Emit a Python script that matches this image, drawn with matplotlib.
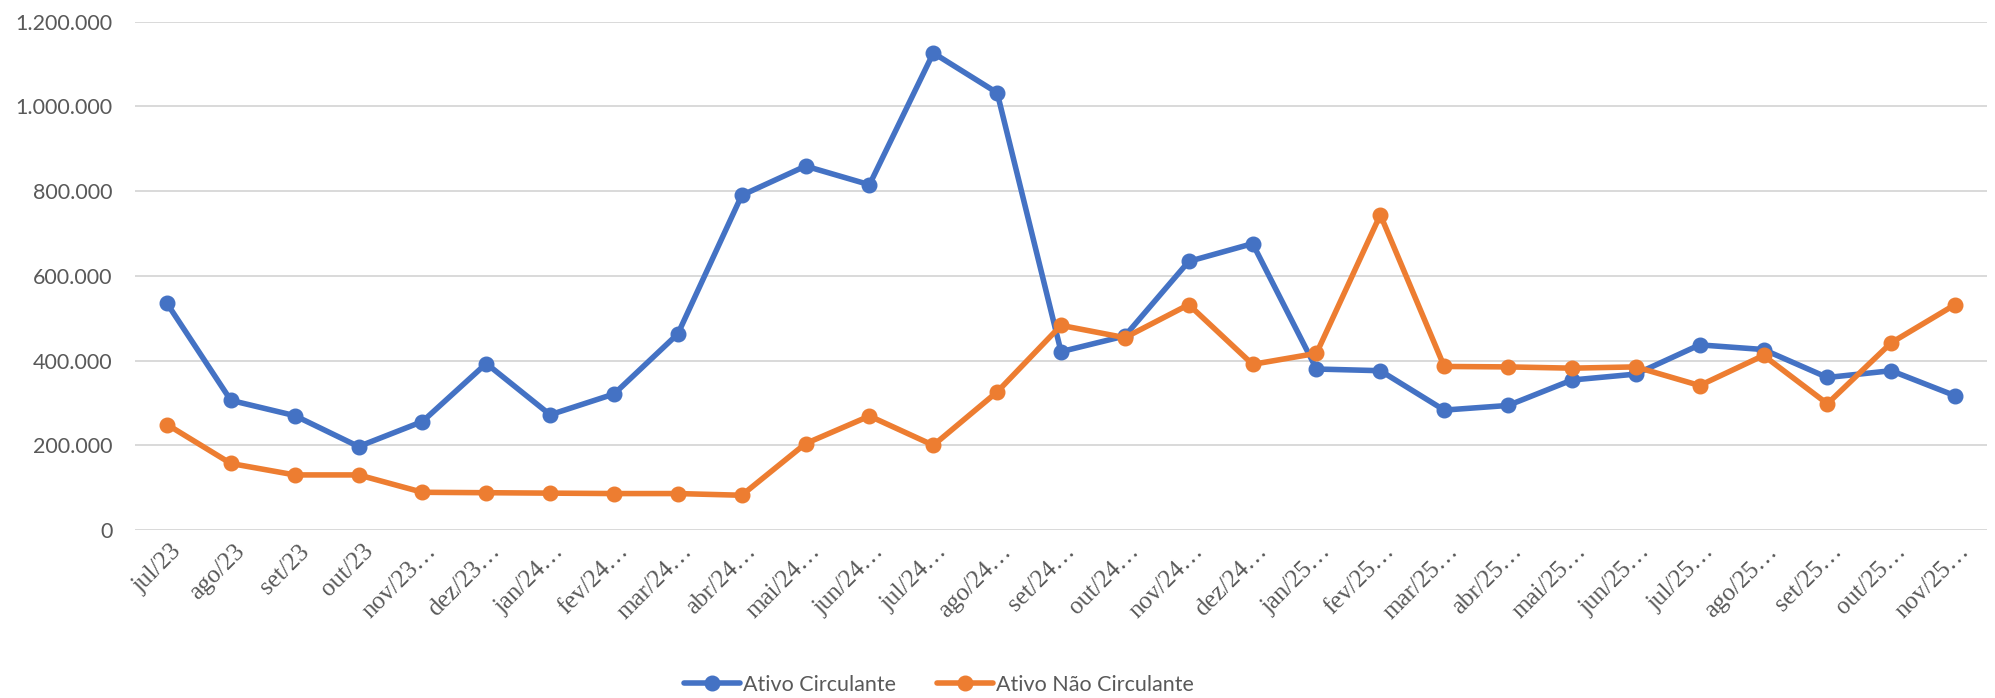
import matplotlib
matplotlib.use("Agg")
import matplotlib.pyplot as plt
from matplotlib.ticker import FuncFormatter, MultipleLocator
from matplotlib.transforms import ScaledTranslation

categories = ["jul/23", "ago/23", "set/23", "out/23", "nov/23…", "dez/23…", "jan/24…",
              "fev/24…", "mar/24…", "abr/24…", "mai/24…", "jun/24…", "jul/24…", "ago/24…",
              "set/24…", "out/24…", "nov/24…", "dez/24…", "jan/25…", "fev/25…", "mar/25…",
              "abr/25…", "mai/25…", "jun/25…", "jul/25…", "ago/25…", "set/25…", "out/25…",
              "nov/25…"]

ativo_circulante = [535000, 306000, 270000, 197000, 256000, 393000, 272000, 321000, 463000,
                    790000, 859000, 815000, 1126000, 1032000, 421000, 458000, 634000, 676000,
                    380000, 376000, 283000, 294000, 354000, 368000, 437000, 426000, 360000,
                    376000, 317000]

ativo_nao_circulante = [249000, 157000, 130000, 130000, 89000, 88000, 87000, 86000, 86000,
                        82000, 204000, 269000, 200000, 326000, 483000, 454000, 532000, 391000,
                        417000, 744000, 386000, 385000, 382000, 385000, 341000, 412000, 298000,
                        442000, 532000]

series_names = ["Ativo Circulante", "Ativo Não Circulante"]
colors = ["#4472C4", "#ED7D31"]

fig = plt.figure(figsize=(19.95, 6.98), dpi=100)
ax = fig.add_axes([0.0677, 0.2407, 0.9283, 0.7283])

x = list(range(len(categories)))
for vals, name, c in zip([ativo_circulante, ativo_nao_circulante], series_names, colors):
    ax.plot(x, vals, color=c, lw=4.0, marker="o", markersize=10.5, label=name,
            solid_joinstyle="round", solid_capstyle="round", zorder=3)

ax.set_xlim(-0.5, len(categories) - 0.5)
ax.set_ylim(0, 1200000)
ax.yaxis.set_major_locator(MultipleLocator(200000))
ax.yaxis.set_major_formatter(FuncFormatter(lambda v, p: f"{int(v):,}".replace(",", ".")))
ax.grid(axis="y", color="#D9D9D9", lw=1.4, zorder=0)
ax.set_axisbelow(True)
for s in ax.spines.values():
    s.set_visible(False)

ax.tick_params(axis="y", length=0, pad=16, labelsize=15.5, labelcolor="#595959")
for lbl in ax.get_yticklabels():
    lbl.set_fontfamily("Lato")

ax.set_xticks(x)
ax.set_xticklabels(categories, rotation=45, ha="right", va="center",
                   rotation_mode="anchor", fontsize=18, color="#595959",
                   family="Liberation Serif")
ax.tick_params(axis="x", length=0, pad=13)
offset = ScaledTranslation(11 / 100, 0, fig.dpi_scale_trans)
for lbl in ax.get_xticklabels():
    lbl.set_transform(lbl.get_transform() + offset)

leg = fig.legend(loc="center", bbox_to_anchor=(0.4707, 0.0193), ncol=2, frameon=False,
                 prop={"family": "Lato", "size": 15.5}, handlelength=2.6,
                 handletextpad=0.15, columnspacing=1.9)
for t in leg.get_texts():
    t.set_color("#595959")

fig.savefig("out.png", dpi=100, facecolor="white")
